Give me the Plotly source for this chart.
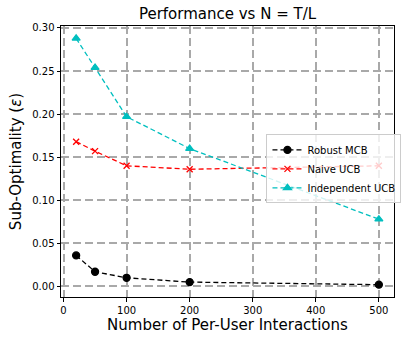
import plotly.graph_objects as go

# данные
n_vals = [20, 50, 100, 200, 500]
robust_mcb = [0.036, 0.017, 0.010, 0.005, 0.002]
naive_ucb = [0.168, 0.157, 0.140, 0.136, 0.140]
independent_ucb = [0.288, 0.254, 0.197, 0.160, 0.078]

x_ticks = [0, 100, 200, 300, 400, 500]
y_ticks = [0.00, 0.05, 0.10, 0.15, 0.20, 0.25, 0.30]

fig = go.Figure()

series = [
    (robust_mcb, 'Robust MCB', 'black', 'circle', 7),
    (naive_ucb, 'Naive UCB', 'red', 'x-thin', 6),
    (independent_ucb, 'Independent UCB', '#00bfbf', 'triangle-up', 7),
]
for vals, name, col, sym, size in series:
    fig.add_trace(go.Scatter(
        x=n_vals, y=vals,
        mode='lines+markers',
        line=dict(color=col, width=1.3, dash='5px,3px'),
        marker=dict(color=col, symbol=sym, size=size,
                    line=dict(color=col, width=1.3)),
        name=name
    ))

axis_common = dict(
    showline=True, linecolor='black', linewidth=1, mirror=True,
    ticks='outside', ticklen=3.5, tickcolor='black', tickwidth=1,
    showgrid=True, gridcolor='#a9a9a9', gridwidth=1.8, griddash='8px,4px',
    zeroline=False, automargin=False,
    tickfont=dict(family='DejaVu Sans', size=10, color='black'),
)

fig.update_layout(
    width=401, height=340,
    margin=dict(l=61, r=7, t=26, b=43, autoexpand=False),
    paper_bgcolor='white', plot_bgcolor='white',
    title=dict(text='Performance vs N = T/L', x=0.5, xref='paper',
               y=1 - 14 / 340, yanchor='middle', automargin=False,
               font=dict(family='DejaVu Sans', size=15, color='black')),
    xaxis=dict(axis_common, range=[-4, 524], tickvals=x_ticks,
               title=dict(text='Number of Per-User Interactions', standoff=4,
                          font=dict(family='DejaVu Sans', size=15, color='black'))),
    yaxis=dict(axis_common, range=[-0.0123, 0.3023], tickvals=y_ticks,
               tickformat='.2f',
               title=dict(text='Sub-Optimality (<i>ε</i>)', standoff=6,
                          font=dict(family='DejaVu Sans', size=15, color='black'))),
    legend=dict(x=0.617, y=0.60, xanchor='left', yanchor='top',
                bgcolor='rgba(255,255,255,0.8)', bordercolor='#cccccc',
                borderwidth=1, tracegroupgap=0, itemwidth=30,
                font=dict(family='DejaVu Sans', size=10, color='black')),
    showlegend=True,
)

# убираем отступ body, чтобы график занял окно целиком
fig.write_html("out.html", config={'displayModeBar': False},
               post_script="document.body.style.margin='0';")
